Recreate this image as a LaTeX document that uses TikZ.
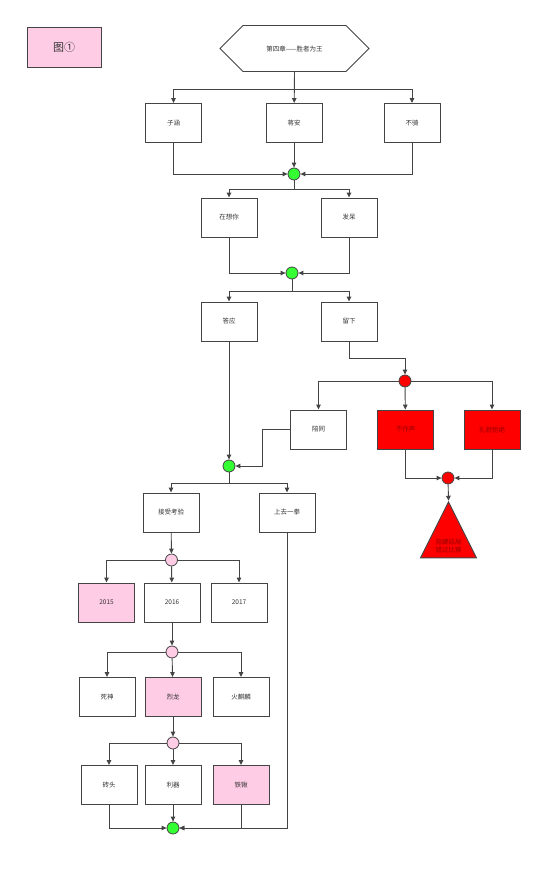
\documentclass[tikz,border=0pt]{standalone}
\usepackage{fontspec}
\setmainfont{Noto Sans CJK SC}
\usetikzlibrary{arrows.meta,shapes.misc,shapes.geometric}
\definecolor{linegray}{HTML}{444444}
\definecolor{txtgray}{HTML}{333333}
\definecolor{pinkfill}{HTML}{FFCCE6}
\definecolor{greenfill}{HTML}{33FF33}
\definecolor{darkred}{HTML}{990000}

\begin{document}
\begin{tikzpicture}[x=1pt, y=-1pt, >={Triangle[length=5pt,width=4.5pt]},
  box/.style={rectangle, draw=linegray, line width=0.9pt, minimum width=56pt,
    minimum height=39pt, inner sep=0pt, text=txtgray,
    font=\fontsize{6.5}{8}\selectfont},
  pinkbox/.style={box, fill=pinkfill},
  redbox/.style={box, fill=red, text=darkred},
  junc/.style={circle, draw=linegray, line width=0.8pt, minimum size=12pt,
    inner sep=0pt},
  flow/.style={->, draw=linegray, line width=0.9pt}]
  \useasboundingbox (0,0) rectangle (554,869);
  \node[pinkbox, minimum width=74pt, minimum height=40pt,
    font=\fontsize{11}{13}\selectfont] (fig) at (64,47) {图①};
  \node[box, chamfered rectangle, chamfered rectangle xsep=12pt,
    chamfered rectangle ysep=20pt, minimum width=149pt, minimum height=40pt]
    (title) at (294.5,48.5) {第四章——胜者为王};
  % first choice
  \node[box] (zihan)  at (173.5,123) {子涵};
  \node[box] (jiangan) at (294,123) {蒋安};
  \node[box] (buqi)   at (412,123) {不骑};
  \node[junc, fill=greenfill] (g1) at (294,174) {};
  \node[box] (xiangni) at (229,217.5) {在想你};
  \node[box] (fadai)   at (349,217.5) {发呆};
  \node[junc, fill=greenfill] (g2) at (292,273) {};
  \node[box] (daying) at (229,321.5) {答应};
  \node[box] (liuxia) at (349,321.5) {留下};
  % hidden ending
  \node[junc, fill=red] (r1) at (405,381) {};
  \node[box] (peitong)  at (318.5,429.5) {陪同};
  \node[redbox] (buzuo) at (405.5,429.5) {不作声};
  \node[redbox] (jujue) at (492,429.5) {礼貌拒绝};
  \node[junc, fill=red] (r2) at (448,478) {};
  \node[isosceles triangle, shape border rotate=90, isosceles triangle stretches,
    minimum width=56pt, minimum height=56pt, inner sep=0pt, draw=linegray,
    line width=0.9pt, fill=red, text=darkred, align=center,
    font=\fontsize{6.5}{8}\selectfont] (ending) at (448.5,546)
    {隐藏结局\\错过比赛};
  % trials
  \node[junc, fill=greenfill] (g3) at (229,466) {};
  \node[box] (kaoyan) at (171,512.5) {接受考验};
  \node[box] (yiquan) at (287,512.5) {上去一拳};
  \node[junc, fill=pinkfill] (p1) at (171.5,560) {};
  \node[pinkbox] (y15) at (106.5,602.5) {2015};
  \node[box] (y16) at (172,602.5) {2016};
  \node[box] (y17) at (239,602.5) {2017};
  \node[junc, fill=pinkfill] (p2) at (172,652) {};
  \node[box] (sishen) at (107,697) {死神};
  \node[pinkbox] (lielong) at (173,697) {烈龙};
  \node[box] (qilin) at (241,697) {火麒麟};
  \node[junc, fill=pinkfill] (p3) at (173,743) {};
  \node[box] (zhuantou) at (109,785) {砖头};
  \node[box] (liqi) at (173,785) {利器};
  \node[pinkbox] (tieqiao) at (241,785) {铁锹};
  \node[junc, fill=greenfill] (g4) at (173,828) {};

  \draw[flow] (title.south) -- ++(0,17) -| (zihan);
  \draw[flow] (title.south) -- (jiangan);
  \draw[flow] (title.south) -- ++(0,17) -| (buqi);
  \draw[flow] (zihan) |- (g1);
  \draw[flow] (jiangan) -- (g1);
  \draw[flow] (buqi) |- (g1);
  \draw[flow] (g1) -- ++(0,15) -| (xiangni);
  \draw[flow] (g1) -- ++(0,15) -| (fadai);
  \draw[flow] (xiangni) |- (g2);
  \draw[flow] (fadai) |- (g2);
  \draw[flow] (g2) -- ++(0,18) -| (daying);
  \draw[flow] (g2) -- ++(0,18) -| (liuxia);
  \draw[flow] (liuxia.south) -- ++(0,17) -| (r1);
  \draw[flow] (r1) -| (peitong);
  \draw[flow] (r1) -- (buzuo);
  \draw[flow] (r1) -| (jujue);
  \draw[flow] (buzuo) |- (r2);
  \draw[flow] (jujue) |- (r2);
  \draw[flow] (r2) -- (ending.apex);
  \draw[flow] (daying) -- (g3);
  \draw[flow] (peitong.west) -- ++(-28,0) |- (g3);
  \draw[flow] (g3) -- ++(0,17) -| (kaoyan);
  \draw[flow] (g3) -- ++(0,17) -| (yiquan);
  \draw[flow] (kaoyan) -- (p1);
  \draw[flow] (p1) -| (y15);
  \draw[flow] (p1) -- (y16);
  \draw[flow] (p1) -| (y17);
  \draw[flow] (y16) -- (p2);
  \draw[flow] (p2) -| (sishen);
  \draw[flow] (p2) -- (lielong);
  \draw[flow] (p2) -| (qilin);
  \draw[flow] (lielong) -- (p3);
  \draw[flow] (p3) -| (zhuantou);
  \draw[flow] (p3) -- (liqi);
  \draw[flow] (p3) -| (tieqiao);
  \draw[flow] (zhuantou) |- (g4);
  \draw[flow] (liqi) -- (g4);
  \draw[flow] (tieqiao) |- (g4);
  \draw[flow] (yiquan) |- (g4);
\end{tikzpicture}
\end{document}
